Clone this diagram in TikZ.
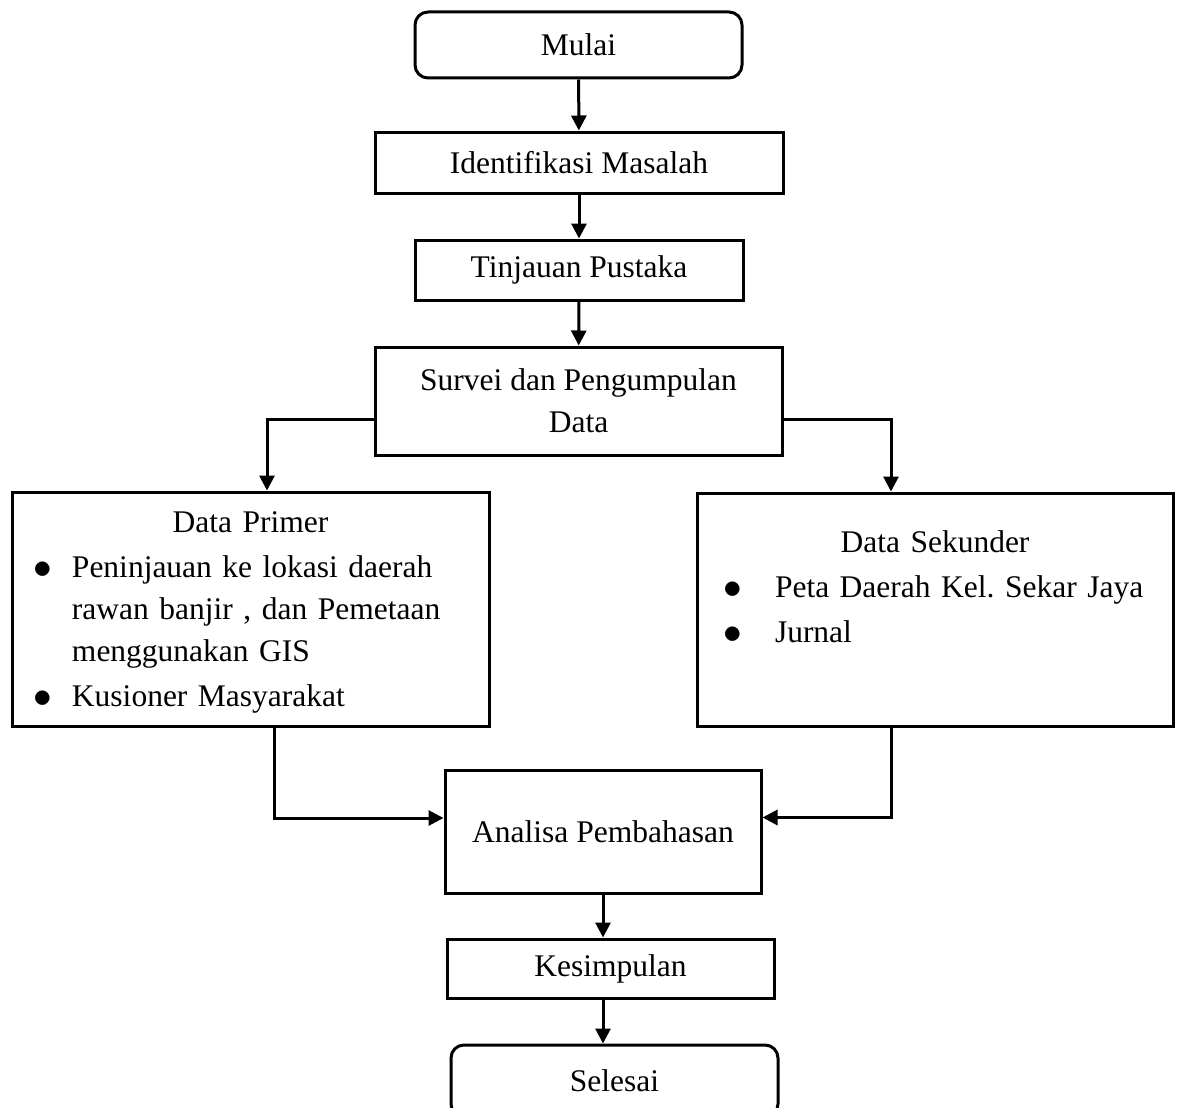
\documentclass[tikz,border=0pt]{standalone}
\usepackage{fontspec}
\setmainfont{Liberation Serif}
\usetikzlibrary{%
    arrows.meta,
    positioning
}
\tikzset{flowarrow/.style = {-{Triangle[length=15pt,width=15pt]}, line width=3pt}}
\tikzset{startstop/.style = {draw, line width=3pt, rounded corners=13pt, minimum width=327pt, minimum height=66pt, inner sep=0pt}}
\tikzset{process/.style = {draw, line width=3pt, inner sep=0pt}}
\tikzset{databox/.style = {draw, line width=3pt, inner ysep=0pt, align=left}}
\newcommand{\bigbullet}{\raisebox{-1pt}{\scalebox{1.5}{$\bullet$}}}
\newcommand{\bulletitem}[3]{\par\hangindent=#2\hangafter=1\noindent\makebox[#2][l]{\hspace{#1}\bigbullet}#3}
\newcommand{\boxsetup}{\setlength{\parskip}{3pt}\setlength{\parindent}{0pt}}

\begin{document}
\begin{tikzpicture}[x=1pt, y=-1pt, font=\fontsize{31.5}{42}\selectfont]
    \clip (0,0) rectangle (1179,1108);

    \node[startstop] (mulai) at (578.5,45) {Mulai};
    \node[process, minimum width=408pt, minimum height=61pt] (ident) at (579,162.5) {Identifikasi Masalah};
    \node[process, minimum width=328pt, minimum height=60pt] (tinjau) at (579,270) {Tinjauan Pustaka};
    \node[process, minimum width=407pt, minimum height=108pt, align=center] (survei) at (578.5,401) {Survei dan Pengumpulan\\ Data};

    \node[databox, text width=433pt, inner xsep=22pt, text height=40pt, text depth=194pt] (primer) at (250.5,609) {%
        \boxsetup
        {\centering Data Primer\par}
        \bulletitem{-1pt}{38pt}{Peninjauan ke lokasi daerah\hfil\break rawan banjir , dan Pemetaan\hfil\break menggunakan GIS}
        \bulletitem{-1pt}{38pt}{Kusioner Masyarakat}};
    \node[databox, text width=436pt, inner xsep=20pt, text height=59pt, text depth=174pt] (sekunder) at (935,609.5) {%
        \boxsetup
        {\centering Data Sekunder\par}
        \bulletitem{6pt}{58pt}{Peta Daerah Kel.\ Sekar Jaya}
        \bulletitem{6pt}{58pt}{Jurnal}};

    \node[process, minimum width=316pt, minimum height=123pt] (analisa) at (603,831.5) {Analisa Pembahasan};
    \node[process, minimum width=327pt, minimum height=59pt] (simpul) at (610.5,968.5) {Kesimpulan};
    \node[startstop, minimum height=72pt] (selesai) at (614.5,1081) {Selesai};

    \foreach \x [remember=\x as \lastx (initially mulai)] in {ident, tinjau, survei}
    \draw[flowarrow] (\lastx) -- (\x);

    \draw[flowarrow] ([yshift=-18pt]survei.west) -| ([xshift=16.5pt]primer.north);
    \draw[flowarrow] ([yshift=-18pt]survei.east) -| ([xshift=-44pt]sekunder.north);
    \draw[flowarrow] ([xshift=23.5pt]primer.south) |- ([yshift=13.5pt]analisa.west);
    \draw[flowarrow] ([xshift=-44pt]sekunder.south) |- ([yshift=14pt]analisa.east);
    \draw[flowarrow] (analisa.south) -- (analisa.south |- simpul.north);
    \draw[flowarrow] (analisa.south |- simpul.south) -- (analisa.south |- selesai.north);
\end{tikzpicture}
\end{document}
